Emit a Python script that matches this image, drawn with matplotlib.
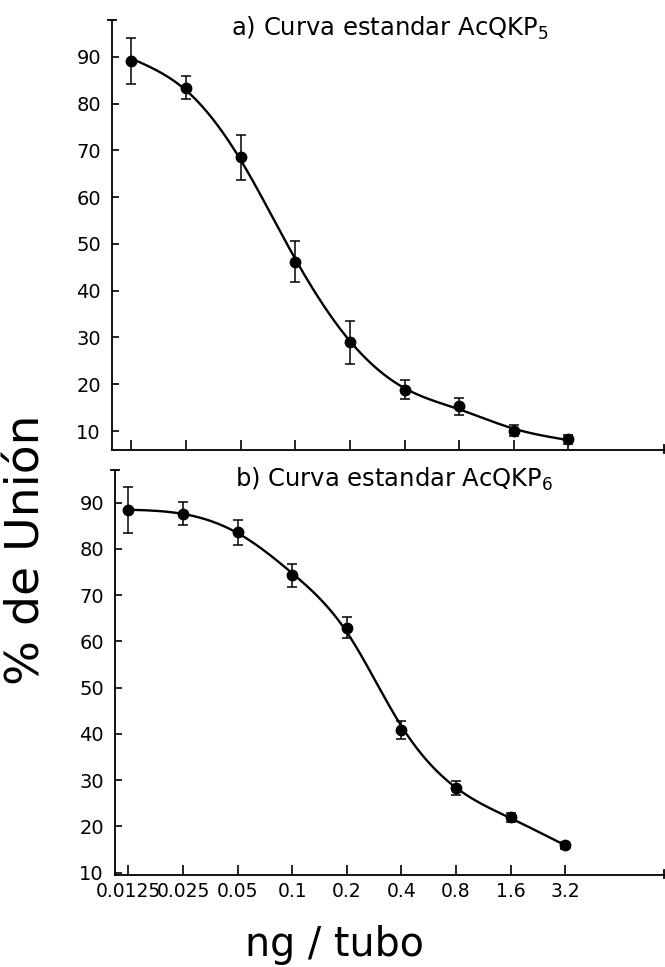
import numpy as np
import matplotlib
matplotlib.use("Agg")
import matplotlib.pyplot as plt

# Dose (ng / tubo) and % binding for the two standard curves
doses = [0.0125, 0.025, 0.05, 0.1, 0.2, 0.4, 0.8, 1.6, 3.2]
dose_labels = ["0.0125", "0.025", "0.05", "0.1", "0.2", "0.4", "0.8", "1.6", "3.2"]

binding_a = [89.1, 83.4, 68.5, 46.2, 29.0, 18.8, 15.3, 10.1, 8.2]
error_a = [5.0, 2.4, 4.8, 4.4, 4.6, 2.0, 1.8, 1.2, 1.0]

binding_b = [88.4, 87.6, 83.6, 74.3, 63.0, 40.9, 28.3, 22.0, 15.9]
error_b = [5.0, 2.5, 2.7, 2.5, 2.2, 2.0, 1.5, 1.0, 0.8]

y_ticks = [10, 20, 30, 40, 50, 60, 70, 80, 90]

title_a = "a) Curva estandar AcQKP$_5$"
title_b = "b) Curva estandar AcQKP$_6$"
x_label = "ng / tubo"
y_label = "% de Unión"

plt.rcParams["font.family"] = ["DejaVu Sans"]
plt.rcParams["mathtext.default"] = "regular"


def smoothing_curve(lx, y, lam, steps=40):
    """Penalised least-squares (smoothing spline) curve on a fine grid
    spanning the equally spaced log2 doses."""
    lx = np.asarray(lx, float)
    y = np.asarray(y, float)
    n_int = len(lx) - 1
    grid = np.linspace(lx[0], lx[-1], n_int * steps + 1)
    h = grid[1] - grid[0]
    N = len(grid)
    w = np.zeros(N)
    target = np.zeros(N)
    nodes = np.arange(len(lx)) * steps
    w[nodes] = 1.0
    target[nodes] = y
    D = np.diff(np.eye(N), n=2, axis=0) / h**2
    A = np.diag(w) + lam * h * D.T @ D
    f = np.linalg.solve(A, w * target)
    return grid, f


fig = plt.figure(figsize=(6.65, 9.67), dpi=100)

W, H = 665.0, 967.0
ax_a = fig.add_axes([112 / W, 1 - 450 / H, (664 - 112) / W, (450 - 20) / H])
ax_b = fig.add_axes([115 / W, 1 - 875 / H, (664 - 115) / W, (875 - 470) / H])

panels = [
    (ax_a, binding_a, error_a, 0.05, (5.94, 97.85), (-0.357, 9.75), False),
    (ax_b, binding_b, error_b, 0.025, (9.5, 97.07), (-0.247, 9.81), True),
]

for ax, vals, errs, lam, ylim, xspan, show_x in panels:
    ax.set_xscale("log", base=2)
    grid, fit = smoothing_curve(np.log2(doses), vals, lam=lam)
    ax.plot(2 ** grid, fit, color="black", lw=1.7, zorder=2)
    ax.errorbar(doses, vals, yerr=errs, fmt="o", color="black", ms=7.5,
                elinewidth=1.1, capsize=3.3, capthick=1.1, zorder=3)

    ax.set_xlim(doses[0] * 2 ** xspan[0], doses[0] * 2 ** xspan[1])
    ax.set_ylim(*ylim)
    ax.set_xticks(doses)
    ax.minorticks_off()
    ax.set_yticks(y_ticks)
    ax.set_yticklabels([str(v) for v in y_ticks])
    if show_x:
        ax.set_xticklabels(dose_labels)
    else:
        ax.set_xticklabels([])

    for side in ("top", "right"):
        ax.spines[side].set_visible(False)
    for side in ("left", "bottom"):
        ax.spines[side].set_linewidth(1.3)

    ax.tick_params(axis="x", direction="in", length=7, width=1.2,
                   labelsize=13.5, pad=5)
    ax.tick_params(axis="y", direction="in", length=5, width=1.2,
                   labelsize=14, pad=8)

    # short end caps on the axis lines
    ax.plot([-0.008, 0.008], [1, 1], transform=ax.transAxes, color="black",
            lw=1.3, clip_on=False)
    ax.plot([1, 1], [-0.008, 0.012], transform=ax.transAxes, color="black",
            lw=1.3, clip_on=False)

fig.text(390 / W, 1 - 28 / H, title_a, ha="center", va="center", fontsize=17.5)
fig.text(394 / W, 1 - 479 / H, title_b, ha="center", va="center", fontsize=17.5)

fig.text(27 / W, 1 - 550 / H, y_label, rotation=90, ha="center", va="center",
         fontsize=34)
fig.text(334 / W, 1 - 945 / H, x_label, ha="center", va="center", fontsize=28.5)

fig.savefig("out.png", dpi=100)
